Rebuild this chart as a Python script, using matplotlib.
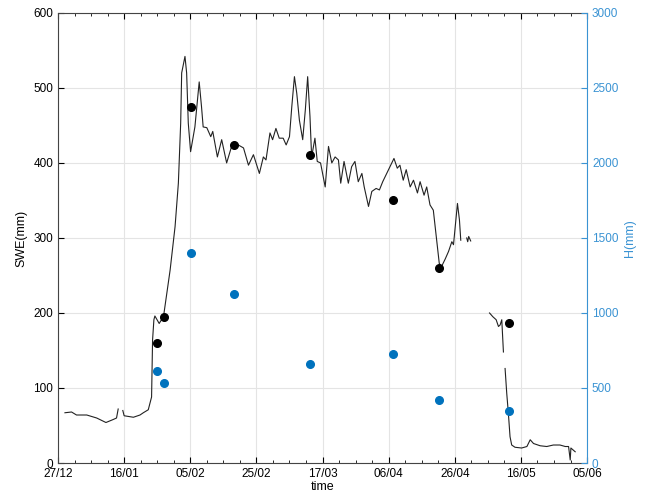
import matplotlib; matplotlib.use("Agg")
import matplotlib.pyplot as plt
from matplotlib.ticker import MultipleLocator
import numpy as np

# x values are days since 27/12; NaN marks a gap in the record
swe_day = [2.1, 4.1, 5.6, 8.7, 11.7, 14.5, 16.7, 17.7, 18.2, np.nan,
           19.6, 20.0, 22.8, 24.8, 25.8, 27.3, 28.3, 28.6, 29.0, 29.3, 30.6, 31.3, 31.9,
           33.9, 35.4, 36.4, 37.1, 37.4, 38.4, 38.9, 39.4, 40.1, 41.4, 42.7, 43.4, 43.9,
           45.0, 46.2, 46.8, 48.2, 49.5, 51.0, 52.5, 54.5, 56.1, 57.6, 59.1, 60.9,
           62.1, 62.9, 64.1, 64.9, 65.9, 66.9, 68.1, 69.0, 70.0, 70.7, 71.5, 72.2,
           73.0, 74.0, 74.8, 75.5, 76.2, 76.7, 77.7, 78.4, 79.4, 80.8, 81.8, 82.8,
           83.8, 84.8, 85.5, 86.5, 87.8, 88.8, 89.8, 90.8, 91.9, 92.6, 93.9, 94.9,
           96.2, 97.2, 98.2, 99.4, 100.4, 101.6, 102.6, 103.4, 104.4, 105.3, 106.5,
           107.5, 108.7, 109.5, 110.7, 111.5, 112.5, 113.5, 114.5, 115.3, 116.0,
           117.1, 118.1, 119.1, 119.6, 120.4, 120.8, 121.4, 121.8, np.nan,
           123.6, 123.9, 124.2, 124.8, np.nan,
           130.5, 131.5, 132.5, 133.2, 133.7, 134.2, 134.7, np.nan,
           135.2, 135.7, 136.2, 136.7, 137.2, 138.2, 140.2, 141.8, 142.8, 143.8,
           145.8, 147.8, 149.8, 151.8, 153.4, 154.4, 154.9, 155.1, 155.9, 156.4]
swe_val = [67, 68, 64, 64, 60, 54, 58, 60, 72, np.nan,
           70, 63, 61, 64, 67, 71, 88, 164, 191, 196, 186, 191, 195,
           257, 315, 373, 453, 520, 542, 520, 453, 415, 448, 508, 475, 448,
           447, 435, 442, 408, 431, 400, 422, 424, 420, 397, 411, 386,
           408, 404, 440, 431, 446, 433, 433, 424, 435, 475, 515, 493,
           457, 431, 471, 515, 462, 408, 433, 402, 400, 368, 422, 400,
           408, 404, 373, 402, 373, 395, 402, 375, 386, 368, 342, 362,
           366, 364, 375, 386, 395, 406, 393, 397, 377, 391, 368,
           377, 360, 375, 357, 368, 344, 337, 297, 266, 262,
           272, 282, 295, 291, 328, 346, 324, 297, np.nan,
           300, 295, 302, 296, np.nan,
           200, 195, 191, 182, 184, 191, 148, np.nan,
           126, 93, 66, 35, 24, 21, 20, 22, 31, 26,
           23, 22, 24, 24, 22, 22, 4, 20, 17, 15]

obs_day = [30.0, 32.0, 40.2, 53.2, 76.2, 101.3, 115.2, 136.4]
obs_swe = [160, 195, 475, 424, 411, 351, 260, 187]
obs_h = [613, 533, 1400, 1127, 660, 727, 420, 347]

tick_days = [0, 20, 40, 60, 80, 100, 120, 140, 160]
tick_labels = ["27/12", "16/01", "05/02", "25/02", "17/03", "06/04", "26/04", "16/05", "05/06"]

BLUE = "#0072BD"
AXBLUE = "#3a93d3"

plt.rcParams["font.family"] = ["Liberation Sans", "DejaVu Sans"]
fig = plt.figure(figsize=(6.48, 4.96), dpi=100)
ax = fig.add_axes([0.0895, 0.0665, 0.8165, 0.9075])
ax.plot(swe_day, swe_val, color="#222222", lw=0.8)
ax.plot(obs_day, obs_swe, "o", color="black", ms=5.5)
ax.set_xlim(0, 160); ax.set_ylim(0, 600)
ax.set_xticks(tick_days); ax.set_xticklabels(tick_labels)
ax.xaxis.set_minor_locator(MultipleLocator(5))
ax.set_yticks(range(0, 601, 100))
ax.grid(True, color="#e4e4e4", lw=0.8)
ax.set_axisbelow(True)
ax.tick_params(which="both", direction="in", top=True, labelsize=8.5, length=4)
ax.tick_params(which="minor", length=2)
ax.tick_params(axis="y", right=False)
for s in ["left", "bottom", "top"]:
    ax.spines[s].set_color("#444444")
ax.spines["right"].set_visible(False)
ax.set_xlabel("time", fontsize=9, labelpad=1)
ax.set_ylabel("SWE(mm)", fontsize=9, labelpad=4)

ax2 = ax.twinx()
ax2.plot(obs_day, obs_h, "o", color=BLUE, ms=5.5)
ax2.set_ylim(0, 3000)
ax2.set_yticks(range(0, 3001, 500))
ax2.tick_params(axis="y", direction="in", colors=AXBLUE, labelsize=8.5, length=4)
for s in ["left", "bottom", "top"]:
    ax2.spines[s].set_visible(False)
ax2.spines["right"].set_color(AXBLUE)
ax2.set_ylabel("H(mm)", fontsize=9, color=AXBLUE, labelpad=4)

fig.savefig("out.png", dpi=100)
